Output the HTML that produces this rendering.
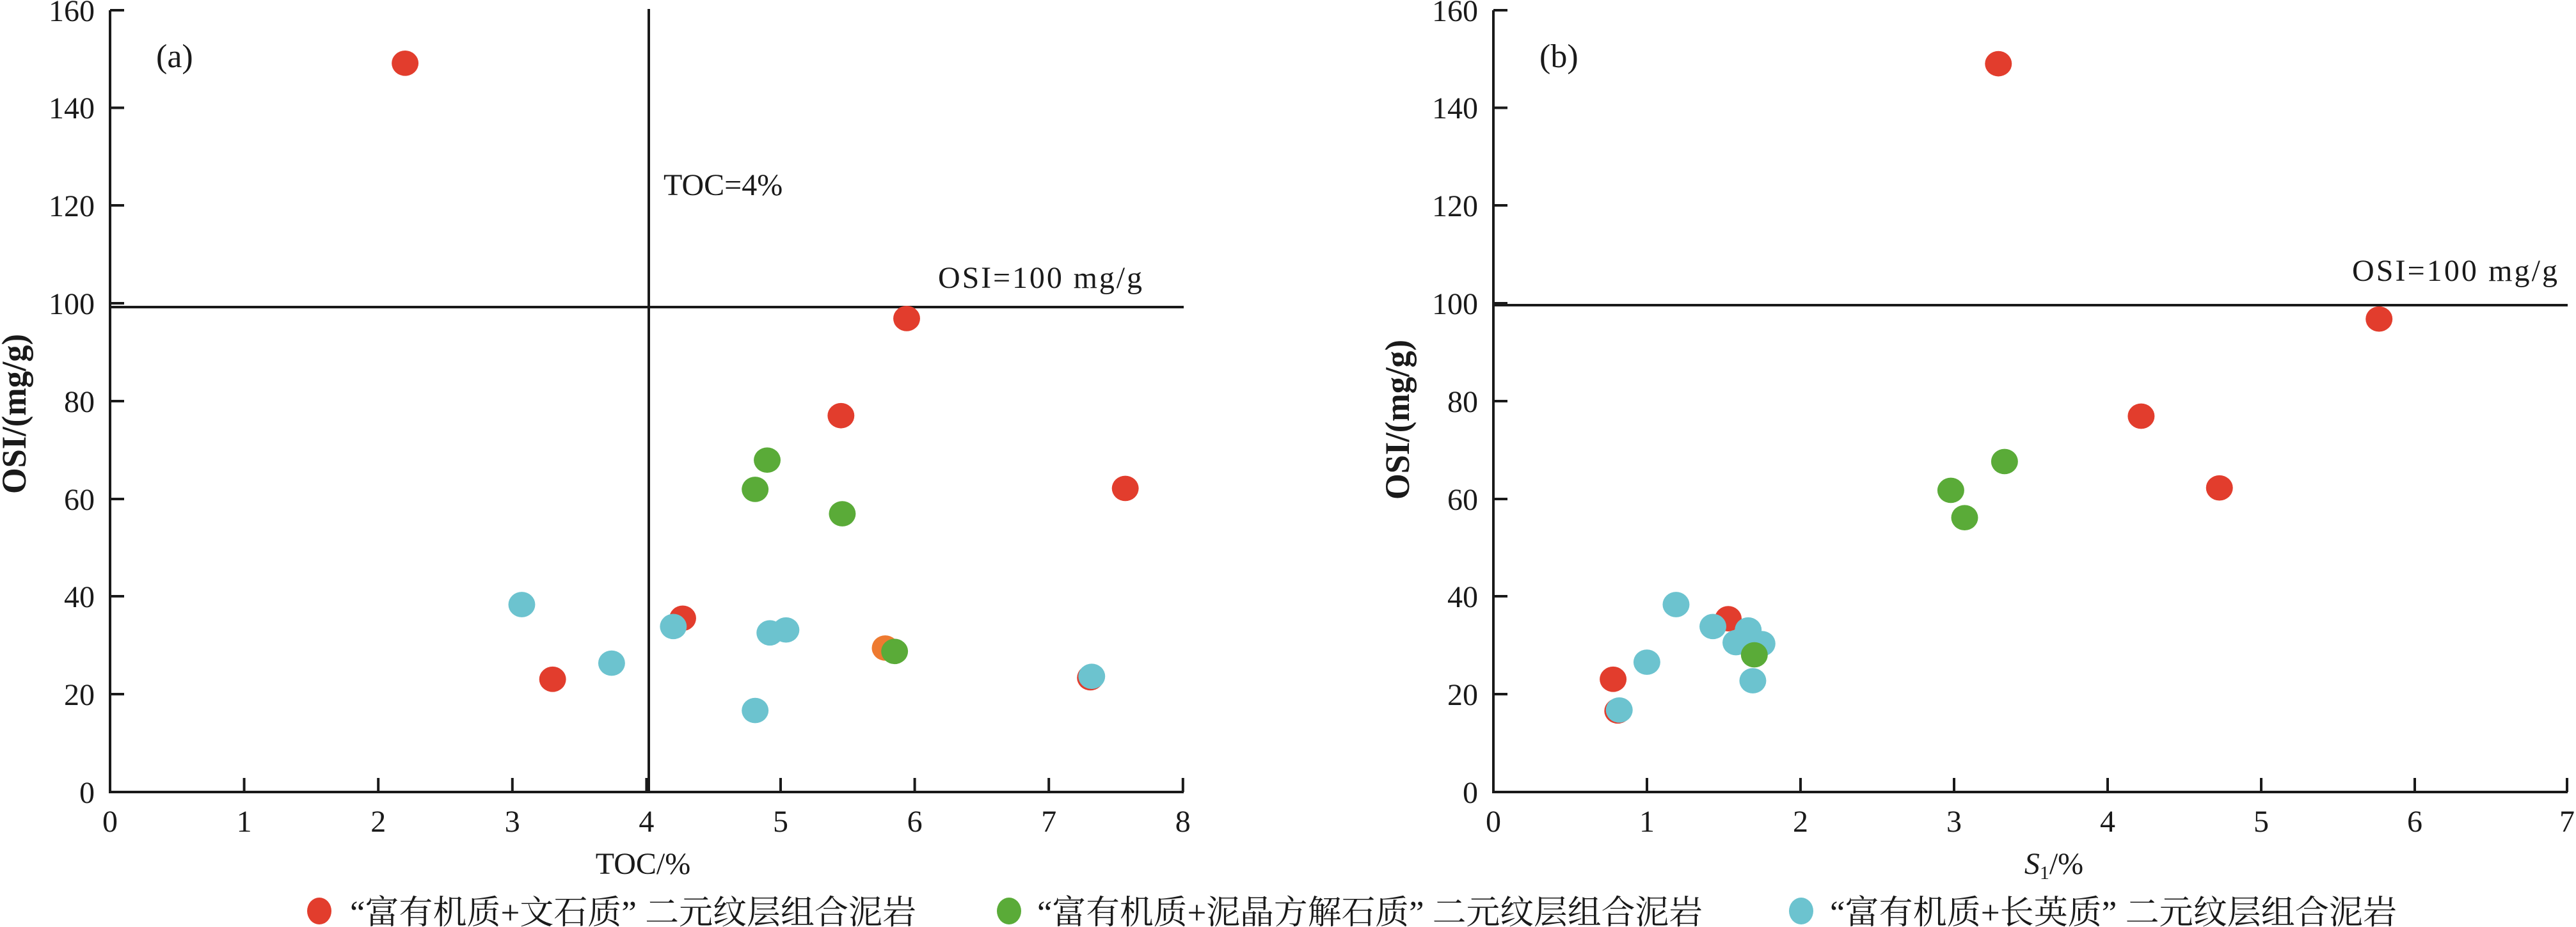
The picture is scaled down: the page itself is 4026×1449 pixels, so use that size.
<!DOCTYPE html>
<html><head><meta charset="utf-8"><style>html,body{margin:0;padding:0;background:#fff}svg{display:block}</style></head>
<body>
<svg width="4026" height="1449" viewBox="0 0 4026 1449" xmlns="http://www.w3.org/2000/svg" font-family="'Liberation Serif', 'Noto Serif CJK SC', serif">
<rect width="4026" height="1449" fill="#fff"/>
<g stroke="#1a1a1a" stroke-width="4" fill="none">
<path d="M172,16 V1238 H1850"/>
<path d="M172,16 H194 M172,168.5 H194 M172,321 H194 M172,474 H194 M172,627 H194 M172,780 H194 M172,932 H194 M172,1085 H194"/>
<path d="M381.6,1238 V1216 M591.2,1238 V1216 M800.8,1238 V1216 M1010.4,1238 V1216 M1220,1238 V1216 M1429.6,1238 V1216 M1639.2,1238 V1216 M1848.8,1238 V1216"/>
<path d="M1014,14 V1238"/>
<path d="M172,480 H1850"/>
<path d="M2334,16 V1238 H4013"/>
<path d="M2334,16 H2356 M2334,168.5 H2356 M2334,321 H2356 M2334,474 H2356 M2334,627 H2356 M2334,780 H2356 M2334,932 H2356 M2334,1085 H2356"/>
<path d="M2574,1238 V1216 M2814,1238 V1216 M3054,1238 V1216 M3294,1238 V1216 M3534,1238 V1216 M3774,1238 V1216 M4012,1238 V1216"/>
<path d="M2334,477 H4013"/>
</g>
<g font-size="48" fill="#1a1a1a">
<g text-anchor="end">
<text x="148" y="33">160</text><text x="148" y="185">140</text><text x="148" y="338">120</text><text x="148" y="491">100</text><text x="148" y="644">80</text><text x="148" y="797">60</text><text x="148" y="949">40</text><text x="148" y="1102">20</text><text x="148" y="1255">0</text>
<text x="2310" y="33">160</text><text x="2310" y="185">140</text><text x="2310" y="338">120</text><text x="2310" y="491">100</text><text x="2310" y="644">80</text><text x="2310" y="797">60</text><text x="2310" y="949">40</text><text x="2310" y="1102">20</text><text x="2310" y="1255">0</text>
</g>
<g text-anchor="middle">
<text x="172" y="1300">0</text><text x="381.6" y="1300">1</text><text x="591.2" y="1300">2</text><text x="800.8" y="1300">3</text><text x="1010.4" y="1300">4</text><text x="1220" y="1300">5</text><text x="1429.6" y="1300">6</text><text x="1639.2" y="1300">7</text><text x="1848.8" y="1300">8</text>
<text x="2334" y="1300">0</text><text x="2574" y="1300">1</text><text x="2814" y="1300">2</text><text x="3054" y="1300">3</text><text x="3294" y="1300">4</text><text x="3534" y="1300">5</text><text x="3774" y="1300">6</text><text x="4012" y="1300">7</text>
<text x="1005" y="1366">TOC/%</text>
<text x="3210" y="1366"><tspan font-style="italic">S</tspan><tspan font-size="30" dy="8">1</tspan><tspan dy="-8">/%</tspan></text>
</g>
<text x="244" y="105" font-size="52">(a)</text>
<text x="2406" y="105" font-size="52">(b)</text>
<text x="1037" y="305">TOC=4%</text>
<text x="1466" y="450" textLength="319">OSI=100 mg/g</text>
<text x="3676" y="439" textLength="321">OSI=100 mg/g</text>
<text transform="translate(40,647) rotate(-90)" text-anchor="middle" font-size="54" font-weight="bold" textLength="250" lengthAdjust="spacingAndGlyphs">OSI/(mg/g)</text>
<text transform="translate(2202,656) rotate(-90)" text-anchor="middle" font-size="54" font-weight="bold" textLength="250" lengthAdjust="spacingAndGlyphs">OSI/(mg/g)</text>
</g>
<g transform="translate(172,1238) scale(209.6,-7.63)">
<g fill="#e23d2d">
<ellipse cx="2.2" cy="149.3" rx="0.1" ry="2.6"/><ellipse cx="5.94" cy="97" rx="0.1" ry="2.6"/><ellipse cx="5.45" cy="77.1" rx="0.1" ry="2.6"/><ellipse cx="7.57" cy="62.2" rx="0.1" ry="2.6"/><ellipse cx="4.27" cy="35.6" rx="0.1" ry="2.6"/><ellipse cx="3.30" cy="23.1" rx="0.1" ry="2.6"/><ellipse cx="7.31" cy="23.4" rx="0.1" ry="2.6"/>
<ellipse cx="5.78" cy="29.5" rx="0.1" ry="2.6" fill="#ee7a30"/>
</g>
<g fill="#6cc3cf">
<ellipse cx="3.07" cy="38.4" rx="0.1" ry="2.6"/><ellipse cx="3.74" cy="26.4" rx="0.1" ry="2.6"/><ellipse cx="4.20" cy="33.9" rx="0.1" ry="2.6"/><ellipse cx="4.92" cy="32.6" rx="0.1" ry="2.6"/><ellipse cx="5.04" cy="33.2" rx="0.1" ry="2.6"/><ellipse cx="4.81" cy="16.7" rx="0.1" ry="2.6"/><ellipse cx="7.32" cy="23.7" rx="0.1" ry="2.6"/>
</g>
<g fill="#5aab38">
<ellipse cx="4.90" cy="68" rx="0.1" ry="2.6"/><ellipse cx="4.81" cy="62" rx="0.1" ry="2.6"/><ellipse cx="5.46" cy="57" rx="0.1" ry="2.6"/><ellipse cx="5.85" cy="28.8" rx="0.1" ry="2.6"/>
</g>
</g>
<g transform="translate(2334,1238) scale(239.9,-7.63)">
<g fill="#e23d2d">
<ellipse cx="3.29" cy="149.2" rx="0.0875" ry="2.6"/><ellipse cx="5.77" cy="96.9" rx="0.0875" ry="2.6"/><ellipse cx="4.22" cy="77" rx="0.0875" ry="2.6"/><ellipse cx="4.73" cy="62.3" rx="0.0875" ry="2.6"/><ellipse cx="1.53" cy="35.5" rx="0.0875" ry="2.6"/><ellipse cx="0.78" cy="23.1" rx="0.0875" ry="2.6"/><ellipse cx="0.81" cy="16.6" rx="0.0875" ry="2.6"/>
</g>
<g fill="#6cc3cf">
<ellipse cx="1.19" cy="38.4" rx="0.0875" ry="2.6"/><ellipse cx="1.43" cy="33.9" rx="0.0875" ry="2.6"/><ellipse cx="1.66" cy="33.2" rx="0.0875" ry="2.6"/><ellipse cx="1.58" cy="30.6" rx="0.0875" ry="2.6"/><ellipse cx="1.75" cy="30.4" rx="0.0875" ry="2.6"/><ellipse cx="1.00" cy="26.6" rx="0.0875" ry="2.6"/><ellipse cx="1.69" cy="22.8" rx="0.0875" ry="2.6"/><ellipse cx="0.82" cy="16.8" rx="0.0875" ry="2.6"/>
</g>
<g fill="#5aab38">
<ellipse cx="3.33" cy="67.7" rx="0.0875" ry="2.6"/><ellipse cx="2.98" cy="61.8" rx="0.0875" ry="2.6"/><ellipse cx="3.07" cy="56.2" rx="0.0875" ry="2.6"/><ellipse cx="1.70" cy="28.1" rx="0.0875" ry="2.6"/>
</g>
</g>
<ellipse cx="499" cy="1424" rx="19" ry="21" fill="#e23d2d"/>
<ellipse cx="1577" cy="1424" rx="19" ry="21" fill="#5aab38"/>
<ellipse cx="2815" cy="1424" rx="19" ry="21" fill="#6cc3cf"/>
<g font-size="52" fill="#1a1a1a">
<text x="547" y="1444" textLength="885" lengthAdjust="spacingAndGlyphs">“富有机质+文石质” 二元纹层组合泥岩</text>
<text x="1621" y="1444" textLength="1040" lengthAdjust="spacingAndGlyphs">“富有机质+泥晶方解石质” 二元纹层组合泥岩</text>
<text x="2860" y="1444" textLength="886" lengthAdjust="spacingAndGlyphs">“富有机质+长英质” 二元纹层组合泥岩</text>
</g>
</svg>
</body></html>
